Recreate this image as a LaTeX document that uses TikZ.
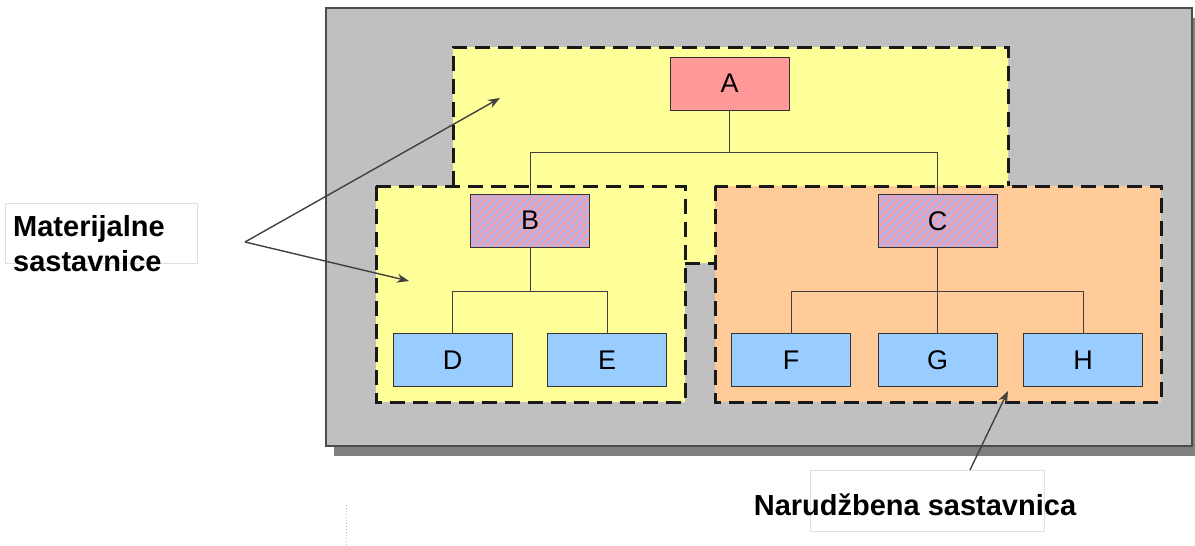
\documentclass[tikz,border=0pt]{standalone}
\usepackage{fontspec}
\setmainfont{Liberation Sans}
\usepackage{tikz}
\usetikzlibrary{arrows.meta, patterns.meta, calc}
\definecolor{bggray}{HTML}{C0C0C0}
\definecolor{shadegray}{HTML}{808080}
\definecolor{matyellow}{HTML}{FFFF99}
\definecolor{ordorange}{HTML}{FFCC99}
\definecolor{rootred}{HTML}{FF9999}
\definecolor{leafblue}{HTML}{99CCFF}
\definecolor{partlav}{HTML}{B4B2EC}
\definecolor{partpink}{HTML}{F4A0AA}
\tikzset{every part box/.style={draw=black!80,line width=1pt,minimum width=119pt,minimum height=53pt,inner sep=0pt,outer sep=0pt,font=\fontsize{27}{30}\selectfont}}
\tikzset{root box/.style={every part box,fill=rootred}}
\tikzset{sub box/.style={every part box,preaction={fill=partlav},pattern={Lines[angle=45,distance=5.5pt,line width=2.6pt]},pattern color=partpink}}
\tikzset{leaf box/.style={every part box,fill=leafblue}}
\tikzset{region/.style={draw=black!90,line width=3pt,dash pattern=on 15pt off 8pt}}
\tikzset{link/.style={draw=black!75,line width=1pt}}
\tikzset{callout/.style={draw=black!75,line width=1.4pt,->}}
\tikzset{call labels/.style={font=\bfseries\fontsize{29}{35}\selectfont,align=left,inner sep=0pt}}

\begin{document}
\begin{tikzpicture}[>={Stealth[length=12pt,width=9pt]},x=1pt,y=-1pt]
    \useasboundingbox (0,0) rectangle (1195,546);

    % frame with shadow
    \fill[shadegray] (334,18) rectangle (1195,456);
    \filldraw[fill=bggray,draw=black!70,line width=1.2pt] (326,8) rectangle (1192,446);

    % material sub-structures
    \fill[matyellow] (376,186) -- (453,186) -- (453,47) -- (1008,47) -- (1008,186) -- (715,186) -- (715,263) -- (685,263) -- (685,402) -- (376,402) -- cycle;
    \draw[region] (453,186) -- (453,47) -- (1008,47) -- (1008,186);
    \draw[region] (685,263) -- (715,263);
    \draw[region] (376,186) rectangle (685,402);
    % order sub-structure
    \filldraw[region,fill=ordorange] (715,186) rectangle (1161,402);

    \node[root box](A) at (729.5,83.5){A};
    \node[sub box](B) at (530,220.5){B};
    \node[sub box](C) at (937.5,221){C};
    \node[leaf box](D) at (452.5,360){D};
    \node[leaf box](E) at (607,360){E};
    \node[leaf box](F) at (791,360){F};
    \node[leaf box](G) at (937.5,360){G};
    \node[leaf box](H) at (1083,360){H};

    \draw[link] (A.south) -- ++(0,42) -| (B.north);
    \draw[link] (A.south) -- ++(0,42) -| (C.north);
    \draw[link] (B.south) -- ++(0,44) -| (D.north);
    \draw[link] (B.south) -- ++(0,44) -| (E.north);
    \draw[link] (C.south) -- ++(0,44) -| (F.north);
    \draw[link] (C.south) -- (G.north);
    \draw[link] (C.south) -- ++(0,44) -| (H.north);

    % labels
    \draw[black!12,line width=0.8pt] (5,203) rectangle (197,263);
    \draw[black!12,line width=0.8pt] (810,470) rectangle (1044,531);
    \draw[black!25,dotted,line width=1pt] (346,505) -- (346,546);
    \node[call labels,anchor=west](mat) at (13,244){Materijalne\\sastavnice};
    \node[call labels,anchor=base](nar) at (915,515){Narudžbena sastavnica};

    \coordinate (matpt) at (245,242);
    \coordinate (yeltop) at (500,98);
    \coordinate (yelleft) at (409,281);
    \coordinate (narpt) at (970,470);
    \coordinate (ordin) at (1008,391);
    \draw[callout] (matpt) -- (yeltop);
    \draw[callout] (matpt) -- (yelleft);
    \draw[callout] (narpt) -- (ordin);
\end{tikzpicture}
\end{document}
